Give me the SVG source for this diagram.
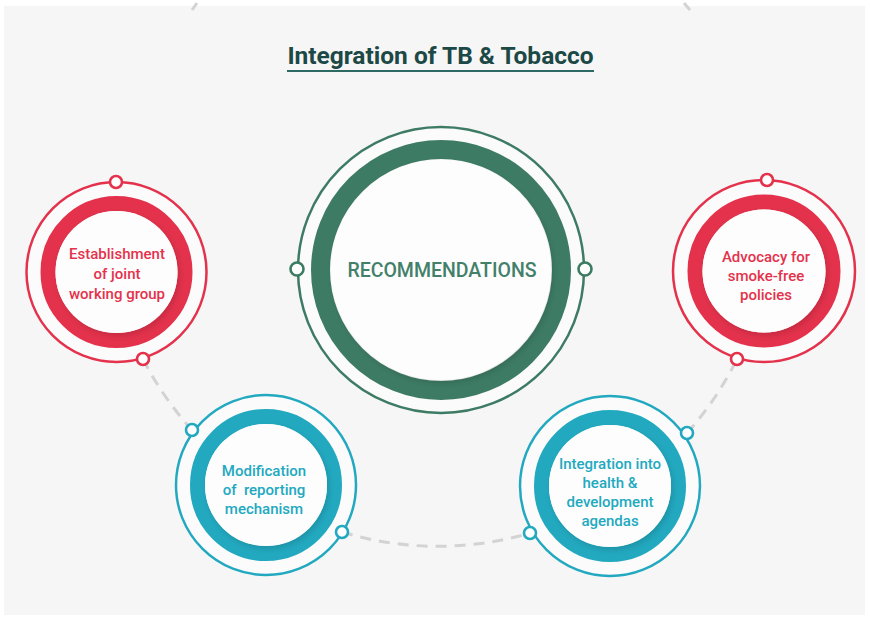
<svg xmlns="http://www.w3.org/2000/svg" width="870" height="619" viewBox="0 0 870 619">
  <defs>
    <filter id="soft" x="-20%" y="-20%" width="140%" height="140%">
      <feDropShadow dx="2" dy="3" stdDeviation="3" flood-color="#000" flood-opacity="0.14"/>
    </filter>
  </defs>
  <style>
    .title { font-family: Roboto, "Liberation Sans", sans-serif; font-weight: 700; font-size: 24.5px; fill: #1c4845; }
    .lbl { font-family: Roboto, "Liberation Sans", sans-serif; font-weight: 500; font-size: 15px; text-anchor: middle; }
    .red .ring, .red .band, .red .dot { stroke: #e4324c; }
    .red .lbl { fill: #e4324c; }
    .blue .ring, .blue .band, .blue .dot { stroke: #22a9c0; }
    .blue .lbl { fill: #22a9c0; }
    .green .ring, .green .band, .green .dot { stroke: #3d7b64; }
    .ring { fill: #fbfbfb; stroke-width: 2.5; }
    .band { fill: none; }
    .disk { fill: #fdfdfd; filter: url(#soft); }
    .dot { fill: #ffffff; stroke-width: 2.6; }
    .dash { fill: none; stroke: #d3d3d3; stroke-width: 3; stroke-dasharray: 11 8; }
  </style>

  <!-- page -->
  <rect x="0" y="0" width="870" height="619" fill="#ffffff"/>
  <rect x="4" y="6" width="861" height="609" fill="#f6f6f6"/>

  <!-- title -->
  <text class="title" x="440.5" y="64" text-anchor="middle">Integration of TB &amp; Tobacco</text>
  <line x1="287" y1="71" x2="594" y2="71" stroke="#2e6a64" stroke-width="2.2"/>

  <!-- connectors: dashed arc of the outer orbit -->
  <g id="connectors">
    <path class="dash" d="M 192 10 L 197 3" stroke-dasharray="none"/>
    <path class="dash" d="M 684 3 L 690 10" stroke-dasharray="none"/>
    <path class="dash" d="M 143 359 A 327 327 0 0 0 192 430"/>
    <path class="dash" d="M 342 532 A 327 327 0 0 0 530 533"/>
    <path class="dash" d="M 687 433 A 327 327 0 0 0 737 359"/>
  </g>

  <!-- central node -->
  <g id="recommendations" class="green">
    <circle class="ring" cx="441" cy="270" r="143"/>
    <circle class="band" cx="441" cy="270" r="120.5" stroke-width="19"/>
    <circle class="disk" cx="441" cy="270" r="110"/>
    <circle class="dot" cx="297" cy="269" r="6.5"/>
    <circle class="dot" cx="585" cy="269" r="6.5"/>
    <text x="442" y="277" text-anchor="middle" font-family="Roboto, 'Liberation Sans', sans-serif" font-weight="500" font-size="19.5" fill="#43806a">RECOMMENDATIONS</text>
  </g>

  <!-- left red node -->
  <g id="joint-working-group" class="red">
    <circle class="ring" cx="116.5" cy="272" r="90"/>
    <circle class="band" cx="116.5" cy="272" r="68.5" stroke-width="15"/>
    <circle class="disk" cx="116.5" cy="272" r="61"/>
    <circle class="dot" cx="116" cy="182" r="6"/>
    <circle class="dot" cx="143" cy="359" r="6"/>
    <text class="lbl" x="117" y="259">Establishment</text>
    <text class="lbl" x="117" y="279">of joint</text>
    <text class="lbl" x="117" y="299">working group</text>
  </g>

  <!-- right red node -->
  <g id="smoke-free-policies" class="red">
    <circle class="ring" cx="764" cy="271" r="91"/>
    <circle class="band" cx="764" cy="271" r="69" stroke-width="15"/>
    <circle class="disk" cx="764" cy="271" r="61.5"/>
    <circle class="dot" cx="767" cy="180" r="6"/>
    <circle class="dot" cx="737" cy="359" r="6"/>
    <text class="lbl" x="766" y="262">Advocacy for</text>
    <text class="lbl" x="766" y="281">smoke-free</text>
    <text class="lbl" x="766" y="300">policies</text>
  </g>

  <!-- bottom left blue node -->
  <g id="reporting-mechanism" class="blue">
    <circle class="ring" cx="266" cy="485" r="90"/>
    <circle class="band" cx="266" cy="485" r="68.5" stroke-width="15"/>
    <circle class="disk" cx="266" cy="485" r="61"/>
    <circle class="dot" cx="192" cy="430" r="6"/>
    <circle class="dot" cx="342" cy="532" r="6"/>
    <text class="lbl" x="264" y="476">Modification</text>
    <text class="lbl" x="264" y="495" xml:space="preserve">of  reporting</text>
    <text class="lbl" x="264" y="514">mechanism</text>
  </g>

  <!-- bottom right blue node -->
  <g id="health-development-agendas" class="blue">
    <circle class="ring" cx="610" cy="486" r="90"/>
    <circle class="band" cx="610" cy="486" r="68.5" stroke-width="15"/>
    <circle class="disk" cx="610" cy="486" r="61"/>
    <circle class="dot" cx="687" cy="433" r="6"/>
    <circle class="dot" cx="530" cy="533" r="6"/>
    <text class="lbl" x="610" y="469">Integration into</text>
    <text class="lbl" x="610" y="488">health &amp;</text>
    <text class="lbl" x="610" y="507">development</text>
    <text class="lbl" x="610" y="526">agendas</text>
  </g>
</svg>
